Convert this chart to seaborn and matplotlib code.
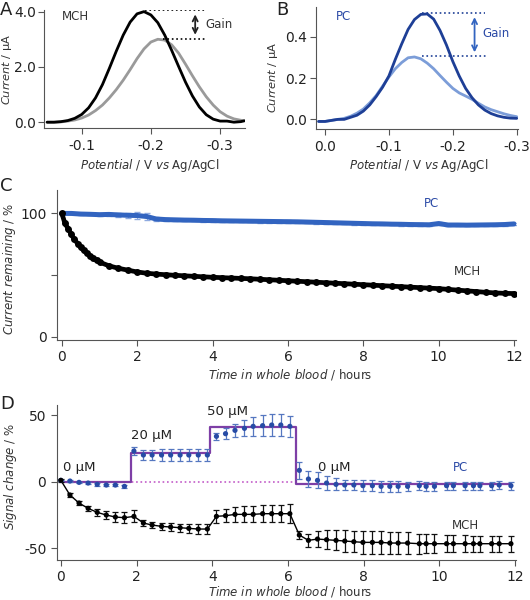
import numpy as np
import pandas as pd
import seaborn as sns
import matplotlib.pyplot as plt

# ---------------- panel A: MCH voltammograms
potA = [-0.050, -0.060, -0.070, -0.080, -0.090, -0.100, -0.110, -0.120, -0.130, -0.140,
        -0.150, -0.160, -0.170, -0.180, -0.190, -0.200, -0.210, -0.220, -0.230, -0.240,
        -0.250, -0.260, -0.270, -0.280, -0.290, -0.300, -0.310, -0.320, -0.330, -0.335]
mch_high = [0.00, 0.00, 0.02, 0.06, 0.14, 0.28, 0.52, 0.88, 1.36, 1.95,
            2.57, 3.15, 3.62, 3.92, 4.00, 3.88, 3.60, 3.15, 2.60, 2.02,
            1.45, 0.95, 0.55, 0.27, 0.11, 0.04, 0.04, 0.00, 0.02, 0.05]
mch_low = [0.00, 0.00, 0.01, 0.04, 0.08, 0.15, 0.26, 0.42, 0.62, 0.88,
           1.18, 1.52, 1.90, 2.30, 2.65, 2.90, 3.00, 2.97, 2.80, 2.50,
           2.10, 1.68, 1.28, 0.92, 0.62, 0.38, 0.22, 0.12, 0.07, 0.05]

# ---------------- panel B: PC voltammograms
potB = [0.010, 0.000, -0.010, -0.020, -0.030, -0.040, -0.050, -0.060, -0.070, -0.080,
        -0.090, -0.100, -0.110, -0.120, -0.130, -0.140, -0.150, -0.160, -0.170, -0.180,
        -0.190, -0.200, -0.210, -0.220, -0.230, -0.240, -0.250, -0.260, -0.270, -0.280,
        -0.290, -0.300]
pc_high = [-0.010, -0.010, -0.005, 0.000, 0.000, 0.010, 0.020, 0.040, 0.070, 0.110,
           0.155, 0.210, 0.290, 0.365, 0.435, 0.483, 0.508, 0.510, 0.485, 0.430,
           0.360, 0.280, 0.210, 0.150, 0.105, 0.070, 0.045, 0.028, 0.017, 0.010,
           0.006, 0.005]
pc_low = [-0.010, -0.010, -0.005, 0.000, 0.005, 0.015, 0.030, 0.050, 0.080, 0.115,
          0.160, 0.205, 0.245, 0.275, 0.298, 0.302, 0.293, 0.272, 0.245, 0.212,
          0.180, 0.150, 0.128, 0.113, 0.097, 0.078, 0.060, 0.047, 0.037, 0.027,
          0.019, 0.013]

# ---------------- panel C: current remaining in whole blood
mchC_t = [0, 0.08, 0.17, 0.25, 0.33, 0.42, 0.5, 0.58, 0.67, 0.75, 0.83, 0.92, 1.0,
          1.25, 1.5, 1.75, 2.0, 2.25, 2.5, 2.75, 3.0, 3.25, 3.5, 3.75, 4.0, 4.25, 4.5,
          4.75, 5.0, 5.25, 5.5, 5.75, 6.0, 6.25, 6.5, 6.75, 7.0, 7.25, 7.5, 7.75, 8.0,
          8.25, 8.5, 8.75, 9.0, 9.25, 9.5, 9.75, 10.0, 10.25, 10.5, 10.75, 11.0, 11.25,
          11.5, 11.75, 12.0]
mchC_y = [100, 92, 87.5, 83, 79, 75.5, 72.5, 70, 67.5, 65.5, 63.5, 62, 60.5,
          57.5, 55.5, 54, 52.5, 51.5, 50.8, 50.3, 49.8, 49.4, 49, 48.6, 48.2, 47.9, 47.6,
          47.3, 47, 46.6, 46.2, 45.8, 45.4, 45, 44.6, 44.2, 43.8, 43.4, 43, 42.6, 42.2,
          41.8, 41.4, 41, 40.6, 40.2, 39.8, 39.4, 39, 38.4, 37.8, 37.2, 36.6, 36,
          35.5, 35.2, 35]
pcC_t = [0, 0.25, 0.5, 0.75, 1.0, 1.25, 1.5, 1.75, 2.0, 2.25, 2.5, 2.75, 3.0, 3.25,
         3.5, 3.75, 4.0, 4.25, 4.5, 4.75, 5.0, 5.25, 5.5, 5.75, 6.0, 6.25, 6.5, 6.75,
         7.0, 7.25, 7.5, 7.75, 8.0, 8.25, 8.5, 8.75, 9.0, 9.25, 9.5, 9.75, 10.0, 10.25,
         10.5, 10.75, 11.0, 11.25, 11.5, 11.75, 12.0]
pcC_y = [100, 100, 99.5, 99.3, 99, 99.2, 98.8, 98.5, 98.3, 97.5, 95.5, 95, 94.8, 94.6,
         94.5, 94.3, 94.2, 94, 93.9, 93.8, 93.7, 93.6, 93.5, 93.4, 93.3, 93.2, 93, 92.8,
         92.6, 92.4, 92.2, 92, 91.8, 91.6, 91.5, 91.3, 91.2, 91, 90.9, 90.8, 91.8, 90.6,
         90.6, 90.5, 90.6, 90.7, 90.8, 91, 91.5]
pcC_err = [0.8, 0.8, 0.8, 0.8, 0.8, 1.0, 1.5, 2.0, 2.5, 2.5, 1.5, 1.0, 1.0, 1.0,
           1.0, 1.0, 1.0, 1.0, 1.0, 1.0, 1.0, 1.0, 1.0, 1.0, 1.0, 1.0, 1.0, 1.0,
           1.0, 1.0, 1.0, 1.0, 1.0, 1.0, 1.0, 1.0, 1.0, 1.0, 1.0, 1.0, 1.5, 1.0,
           1.0, 1.0, 1.0, 1.0, 1.0, 1.0, 1.0]

# ---------------- panel D: signal change with target additions
tD = [0, 0.24, 0.48, 0.72, 0.96, 1.2, 1.44, 1.68, 1.93, 2.18, 2.41, 2.66, 2.9, 3.15,
      3.38, 3.63, 3.87, 4.11, 4.35, 4.6, 4.85, 5.08, 5.33, 5.57, 5.81, 6.05, 6.3, 6.54,
      6.78, 7.02, 7.27, 7.5, 7.74, 7.98, 8.23, 8.46, 8.69, 8.91, 9.16, 9.47, 9.65, 9.87,
      10.19, 10.37, 10.68, 10.9, 11.07, 11.38, 11.58, 11.89]
mchD = [1, -10, -16, -20, -23, -25, -26.5, -27, -26, -31, -32.5, -33.5, -34, -34.5,
        -35, -35.5, -35.5, -26, -25.5, -24.5, -24.5, -24.5, -24, -24, -24, -24, -40, -44,
        -43, -43.5, -44, -44.5, -45, -45.5, -45.5, -45.5, -46, -46, -46, -46.5, -46.5, -46.5,
        -46.5, -46.5, -46.5, -46.5, -46.5, -46.5, -46.5, -46.5]
mchD_err = [1, 1.5, 1.5, 2, 2.5, 3, 3.5, 4, 4.5, 2.5, 2.5, 2.5, 3, 3,
            3.5, 3.5, 4, 5, 5, 5.5, 6, 6, 6.5, 6.5, 6.5, 7, 3, 5,
            6, 7, 7.5, 8, 8, 8.5, 8.5, 8.5, 8.5, 8, 8, 7.5, 7, 7,
            6.5, 6.5, 6.5, 6, 6, 6, 6, 6]
pcD = [1, 0.5, -0.5, -1, -2, -2.5, -2.5, -3.5, 23, 20, 20, 20, 20, 20,
       20, 20, 20, 34, 36, 38.5, 40, 41.5, 42, 42.5, 42.5, 41.5, 8.5, 2,
       1, -1, -2, -2.5, -2.5, -3, -3, -3.5, -3.5, -3.5, -3.5, -3, -3.5, -3.5,
       -3, -3, -3, -3, -3, -3, -2.5, -3]
pcD_err = [0.5, 0.5, 0.5, 0.8, 1, 1, 1, 1, 3, 4, 4, 4.5, 4.5, 4.5,
           4.5, 4.5, 4.5, 2.5, 4, 5, 6, 7, 8, 8.5, 8.5, 8, 6.5, 6,
           6, 5, 4.5, 4, 4, 4, 4, 4, 4, 4, 3.5, 3.5, 3.5, 3.5,
           3, 3, 3, 3, 3, 3, 3, 3]
conc_t = [0, 1.85, 3.93, 6.22, 11.9]
conc_level = [0, 21.5, 41, -2, -2]
conc_text = ["0 µM", "20 µM", "50 µM", "0 µM"]

sns.set_style("ticks")
plt.rcParams.update({
    "font.family": ["DejaVu Sans"],
    "axes.unicode_minus": False,
    "axes.edgecolor": "#555555",
    "axes.linewidth": 0.8,
    "xtick.color": "#555555",
    "ytick.color": "#555555",
    "xtick.labelcolor": "#222222",
    "ytick.labelcolor": "#222222",
    "xtick.labelsize": 10,
    "ytick.labelsize": 10,
    "xtick.major.size": 4,
    "ytick.major.size": 4,
    "xtick.major.width": 0.8,
    "ytick.major.width": 0.8,
    "axes.labelsize": 8.5,
    "axes.labelcolor": "#333333",
})

fig = plt.figure(figsize=(5.3, 6.0), dpi=100)
axA = fig.add_axes([0.0836, 0.7862, 0.3787, 0.1972])
axB = fig.add_axes([0.5957, 0.7845, 0.3817, 0.2043])
axC = fig.add_axes([0.1075, 0.4333, 0.8660, 0.2500])
axD = fig.add_axes([0.1070, 0.0667, 0.8670, 0.2583])
for ax in (axA, axB, axC, axD):
    sns.despine(ax=ax)

dark_blue = "#1e3f96"
light_blue = "#7c9dd8"
mid_blue = "#3264c0"
purple = "#7e3fa6"

# ---- A
sns.lineplot(x=potA, y=mch_low, ax=axA, color="#9a9a9a", lw=2.0)
sns.lineplot(x=potA, y=mch_high, ax=axA, color="black", lw=2.0)
axA.set_xlim(-0.046, -0.336)
axA.set_ylim(-0.22, 4.06)
axA.set_xticks([-0.1, -0.2, -0.3])
axA.set_yticks([0, 2, 4])
axA.set_yticklabels(["0.0", "2.0", "4.0"])
axA.tick_params(axis="y", pad=2)
axA.hlines(4.05, -0.192, -0.278, colors="black", linestyles=":", lw=1.2)
axA.hlines(3.01, -0.218, -0.280, colors="black", linestyles=":", lw=1.2)
axA.annotate("", xy=(-0.264, 4.0), xytext=(-0.264, 3.06),
             arrowprops=dict(arrowstyle="<->", color="#222222", lw=1.3, mutation_scale=9))
axA.text(-0.279, 3.52, "Gain", fontsize=8.5, color="#333333", va="center", ha="left")
axA.text(-0.072, 3.82, "MCH", fontsize=8.5, color="#333333", va="center", ha="left")
axA.set_xlabel(r"$\mathit{Potential}$ / V $\mathit{vs}$ Ag/AgCl")
axA.set_ylabel(r"$\mathit{Current}$ / µA", fontsize=8.2)
axA.xaxis.set_label_coords(0.524, -0.243)
axA.yaxis.set_label_coords(-0.150, 0.5)

# ---- B
sns.lineplot(x=potB, y=pc_low, ax=axB, color=light_blue, lw=2.0)
sns.lineplot(x=potB, y=pc_high, ax=axB, color=dark_blue, lw=2.0)
axB.set_xlim(0.0145, -0.302)
axB.set_ylim(-0.048, 0.545)
axB.set_xticks([0.0, -0.1, -0.2, -0.3])
axB.set_xticklabels(["0.0", "-0.1", "-0.2", "-0.3"])
axB.set_yticks([0.0, 0.2, 0.4])
axB.set_yticklabels(["0.0", "0.2", "0.4"])
axB.tick_params(axis="y", pad=2)
axB.hlines(0.513, -0.151, -0.250, colors=dark_blue, linestyles=":", lw=1.2)
axB.hlines(0.306, -0.151, -0.252, colors=dark_blue, linestyles=":", lw=1.2)
axB.annotate("", xy=(-0.234, 0.508), xytext=(-0.234, 0.311),
             arrowprops=dict(arrowstyle="<->", color=mid_blue, lw=1.3, mutation_scale=9))
axB.text(-0.247, 0.416, "Gain", fontsize=8.5, color="#2b4aa6", va="center", ha="left")
axB.text(-0.017, 0.497, "PC", fontsize=8.5, color="#2b4aa6", va="center", ha="left")
axB.set_xlabel(r"$\mathit{Potential}$ / V $\mathit{vs}$ Ag/AgCl")
axB.set_ylabel(r"$\mathit{Current}$ / µA", fontsize=8.2)
axB.xaxis.set_label_coords(0.51, -0.228)
axB.yaxis.set_label_coords(-0.178, 0.42)

# ---- C
axC.errorbar(pcC_t, pcC_y, yerr=pcC_err, fmt="none", ecolor="#8eaae0",
             elinewidth=0.8, capsize=2)
sns.lineplot(x=pcC_t, y=pcC_y, ax=axC, color=mid_blue, lw=3.6)
sns.lineplot(x=mchC_t, y=mchC_y, ax=axC, color="black", lw=3.4,
             marker="o", markersize=5, markeredgecolor="none")
axC.set_xlim(-0.13, 12.05)
axC.set_ylim(-2.7, 119)
axC.set_xticks(range(0, 13, 2))
axC.set_yticks([0, 50, 100])
axC.set_yticklabels(["0", "", "100"])
axC.text(9.8, 108, "PC", fontsize=8.5, color="#2b4aa6", va="center", ha="center")
axC.text(10.75, 52.5, "MCH", fontsize=8.5, color="#333333", va="center", ha="center")
axC.set_xlabel(r"$\mathit{Time\ in\ whole\ blood}$ / hours")
axC.set_ylabel(r"$\mathit{Current\ remaining}$ / %")
axC.xaxis.set_label_coords(0.508, -0.182)
axC.yaxis.set_label_coords(-0.086, 0.47)

# ---- D
axD.hlines(0, conc_t[0], conc_t[3], colors="#c25cc8", linestyles=":", lw=1.2)
sns.lineplot(x=conc_t, y=conc_level, ax=axD, color=purple, lw=1.6,
             drawstyle="steps-post", estimator=None)
axD.errorbar(tD, pcD, yerr=pcD_err, fmt="none", ecolor="#5577c0",
             elinewidth=0.9, capsize=2.2, capthick=0.9)
axD.errorbar(tD, mchD, yerr=mchD_err, fmt="none", ecolor="#111111",
             elinewidth=0.9, capsize=2.2, capthick=0.9)
sns.lineplot(x=tD, y=mchD, ax=axD, color="black", lw=1.0)
sns.scatterplot(x=tD, y=pcD, ax=axD, color="#274ba5", s=14, edgecolor="none", zorder=4)
sns.scatterplot(x=tD, y=mchD, ax=axD, color="black", s=14, edgecolor="none", zorder=4)
axD.set_xlim(-0.11, 12.03)
axD.set_ylim(-58.7, 57.5)
axD.set_xticks(range(0, 13, 2))
axD.set_yticks([-50, 0, 50])
label_pos = [(0.05, 10.5), (1.85, 35), (3.85, 52.5), (6.78, 11)]
for (x, y), s in zip(label_pos, conc_text):
    axD.text(x, y, s, fontsize=9.5, color="#222222", va="center", ha="left")
axD.text(10.55, 11, "PC", fontsize=8.5, color="#2b4aa6", va="center", ha="center")
axD.text(10.7, -32.5, "MCH", fontsize=8.5, color="#333333", va="center", ha="center")
axD.set_xlabel(r"$\mathit{Time\ in\ whole\ blood}$ / hours")
axD.set_ylabel(r"$\mathit{Signal\ change}$ / %")
axD.xaxis.set_label_coords(0.508, -0.155)
axD.yaxis.set_label_coords(-0.081, 0.537)

# panel letters
for x, y, s in [(0.0, 0.983, "A"), (0.522, 0.983, "B"), (0.0, 0.690, "C"), (0.0, 0.327, "D")]:
    fig.text(x, y, s, fontsize=13, color="#222222", va="center", ha="left")

fig.savefig("out.png", dpi=100)
